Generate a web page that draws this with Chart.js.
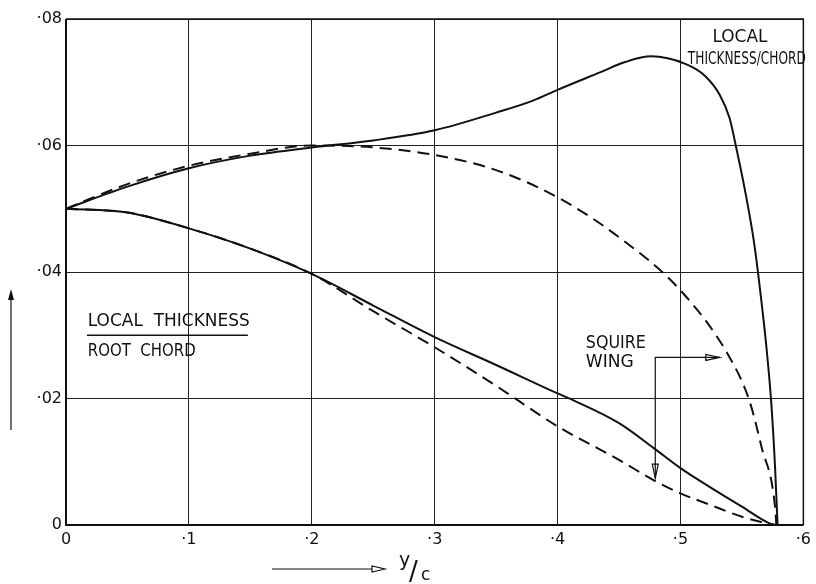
<!DOCTYPE html>
<html>
<head>
<meta charset="utf-8">
<script src="https://cdn.jsdelivr.net/npm/chart.js@4.4.1/dist/chart.umd.min.js"></script>
<style>
html,body{margin:0;padding:0;background:#fff;}
#wrap{width:816px;height:584px;position:relative;}
</style>
</head>
<body>
<div id="wrap"><canvas id="c" width="816" height="584"></canvas></div>
<script>
// ---- data (y/c vs thickness ratio) ----
const xTickValues = [0, 0.1, 0.2, 0.3, 0.4, 0.5, 0.6];
const yTickValues = [0, 0.02, 0.04, 0.06, 0.08];

const chordRatioX = [0, 0.05, 0.1, 0.15, 0.2, 0.25, 0.3, 0.35, 0.38, 0.4, 0.435, 0.455, 0.476, 0.504, 0.52, 0.532, 0.54, 0.545, 0.553, 0.56, 0.5655, 0.57, 0.574, 0.577, 0.579];
const chordRatioY = [0.05, 0.0535, 0.0564, 0.0584, 0.0597, 0.0608, 0.0624, 0.0652, 0.0671, 0.0688, 0.0716, 0.0732, 0.0741, 0.0729, 0.071, 0.068, 0.0643, 0.06, 0.0524, 0.0445, 0.036, 0.028, 0.019, 0.009, 0];

const squireChordX = [0, 0.05, 0.1, 0.15, 0.2, 0.25, 0.3, 0.35, 0.4, 0.45, 0.5, 0.54, 0.556, 0.566, 0.577, 0.578];
const squireChordY = [0.05, 0.0539, 0.0568, 0.0587, 0.06, 0.0597, 0.0585, 0.0561, 0.0518, 0.0455, 0.0371, 0.0265, 0.0197, 0.0123, 0.0028, 0];

const rootRatioX = [0, 0.05, 0.1, 0.15, 0.2, 0.25, 0.3, 0.35, 0.4, 0.413, 0.45, 0.478, 0.5, 0.524, 0.55, 0.572, 0.578];
const rootRatioY = [0.05, 0.0494, 0.0469, 0.0437, 0.0397, 0.0347, 0.0297, 0.0253, 0.0208, 0.0197, 0.0161, 0.0122, 0.009, 0.006, 0.0029, 0.0003, 0];

const squireRootX = [0, 0.05, 0.1, 0.15, 0.2, 0.25, 0.3, 0.35, 0.4, 0.45, 0.478, 0.5, 0.524, 0.55, 0.575];
const squireRootY = [0.05, 0.0494, 0.0469, 0.0437, 0.0397, 0.0338, 0.0281, 0.022, 0.0156, 0.0103, 0.0071, 0.005, 0.0032, 0.0013, 0];

const pts = (xs, ys) => xs.map((x, i) => ({x: x, y: ys[i]}));

function xTickLabel(v) {
  if (Math.abs(v) < 1e-9) return '0';
  return '\u00B7' + Math.round(v * 10);
}
function yTickLabel(v) {
  if (Math.abs(v) < 1e-9) return '0';
  return '\u00B7' + v.toFixed(2).slice(2);
}

const FONT = '"DejaVu Sans", sans-serif';

function fitText(ctx, text, x, y, width, size) {
  ctx.save();
  ctx.font = size + 'px ' + FONT;
  const w = ctx.measureText(text).width;
  ctx.translate(x, y);
  ctx.scale(width / w, 1);
  ctx.textAlign = 'left';
  ctx.textBaseline = 'middle';
  ctx.fillText(text, 0, 0);
  ctx.restore();
}
function arrowHead(ctx, x, y, dir, len, half) {
  const [dx, dy] = dir;
  const px = -dy, py = dx;
  ctx.beginPath();
  ctx.moveTo(x, y);
  ctx.lineTo(x - dx * len + px * half, y - dy * len + py * half);
  ctx.lineTo(x - dx * len - px * half, y - dy * len - py * half);
  ctx.closePath();
  ctx.stroke();
}

const annotations = {
  id: 'annotations',
  afterDraw(chart) {
    const ctx = chart.ctx;
    const xs = chart.scales.x, ys = chart.scales.y;
    const X = v => xs.getPixelForValue(v), Y = v => ys.getPixelForValue(v);
    ctx.save();
    ctx.fillStyle = '#111';
    ctx.strokeStyle = '#111';

    // top-right label
    fitText(ctx, 'LOCAL', X(0.526), Y(0.0771), 55, 17);
    fitText(ctx, 'THICKNESS/CHORD', X(0.506), Y(0.0737), 118, 18);

    // left fraction label
    fitText(ctx, 'LOCAL  THICKNESS', X(0.0177), Y(0.0322), 162, 17);
    ctx.lineWidth = 1.3;
    ctx.beginPath();
    ctx.moveTo(X(0.017), Y(0.0300));
    ctx.lineTo(X(0.148), Y(0.0300));
    ctx.stroke();
    fitText(ctx, 'ROOT  CHORD', X(0.0177), Y(0.0274), 108, 17);

    // Squire wing label + leaders
    fitText(ctx, 'SQUIRE', X(0.423), Y(0.0287), 60, 17);
    fitText(ctx, 'WING', X(0.423), Y(0.0257), 48, 17);
    ctx.lineWidth = 1.2;
    const cx = X(0.4795), cy = Y(0.0265);
    ctx.beginPath();
    ctx.moveTo(X(0.532), cy);
    ctx.lineTo(cx, cy);
    ctx.lineTo(cx, Y(0.0074));
    ctx.stroke();
    arrowHead(ctx, X(0.532), cy, [1, 0], 14, 3);
    arrowHead(ctx, cx, Y(0.0074), [0, 1], 14, 3);

    // y-axis arrow (outside plot)
    ctx.lineWidth = 1.2;
    const yx = 11;
    ctx.beginPath();
    ctx.moveTo(yx, 292);
    ctx.lineTo(yx, 430);
    ctx.stroke();
    ctx.beginPath();
    ctx.moveTo(yx, 289);
    ctx.lineTo(yx - 3, 300);
    ctx.lineTo(yx + 3, 300);
    ctx.closePath();
    ctx.fill();

    // x-axis label arrow and y/c
    ctx.beginPath();
    ctx.moveTo(272, 569);
    ctx.lineTo(372, 569);
    ctx.stroke();
    arrowHead(ctx, 385, 569, [1, 0], 13, 3);
    ctx.textBaseline = 'alphabetic';
    ctx.textAlign = 'left';
    ctx.font = '19px ' + FONT;
    ctx.fillText('y', 399, 566);
    ctx.font = '26px ' + FONT;
    ctx.fillText('/', 409, 580);
    ctx.font = '17px ' + FONT;
    ctx.fillText('c', 421, 580);

    ctx.restore();
  }
};

const frame = {
  id: 'frame',
  afterDatasetsDraw(chart) {
    const a = chart.chartArea, ctx = chart.ctx;
    ctx.save();
    ctx.strokeStyle = '#111';
    ctx.lineWidth = 2;
    ctx.beginPath();
    ctx.moveTo(a.left, a.top);
    ctx.lineTo(a.left, a.bottom);
    ctx.lineTo(a.right, a.bottom);
    ctx.stroke();
    ctx.lineWidth = 1.5;
    ctx.beginPath();
    ctx.moveTo(a.left, a.top);
    ctx.lineTo(a.right, a.top);
    ctx.lineTo(a.right, a.bottom);
    ctx.stroke();
    ctx.restore();
  }
};

const lineStyle = (dash) => ({
  borderColor: '#111',
  borderWidth: 2,
  borderDash: dash,
  pointRadius: 0,
  fill: false,
  showLine: true,
  cubicInterpolationMode: 'monotone'
});

new Chart(document.getElementById('c'), {
  type: 'scatter',
  data: {
    datasets: [
      Object.assign({label: 'Local thickness / chord', data: pts(chordRatioX, chordRatioY)}, lineStyle([])),
      Object.assign({label: 'Squire wing (thickness / chord)', data: pts(squireChordX, squireChordY)}, lineStyle([12, 7])),
      Object.assign({label: 'Local thickness / root chord', data: pts(rootRatioX, rootRatioY)}, lineStyle([])),
      Object.assign({label: 'Squire wing (thickness / root chord)', data: pts(squireRootX, squireRootY)}, lineStyle([12, 7]))
    ]
  },
  options: {
    responsive: false,
    animation: false,
    devicePixelRatio: 1,
    layout: { padding: { top: 19, right: 4, bottom: 0, left: 0 }, autoPadding: false },
    plugins: { legend: { display: false }, tooltip: { enabled: false } },
    scales: {
      x: {
        type: 'linear', min: 0, max: 0.6,
        afterBuildTicks: s => { s.ticks = xTickValues.map(v => ({value: v})); },
        afterFit: s => { s.height = 59; },
        ticks: { callback: v => xTickLabel(v), color: '#111', font: { family: FONT, size: 16 }, padding: 5, maxRotation: 0, autoSkip: false },
        grid: { color: '#222', lineWidth: 1, drawTicks: false },
        border: { display: false }
      },
      y: {
        type: 'linear', min: 0, max: 0.08,
        afterBuildTicks: s => { s.ticks = yTickValues.map(v => ({value: v})); },
        afterFit: s => { s.width = 66; },
        ticks: { callback: v => yTickLabel(v), color: '#111', font: { family: FONT, size: 16 }, padding: 4, autoSkip: false },
        grid: { color: '#222', lineWidth: 1, drawTicks: false },
        border: { display: false }
      }
    }
  },
  plugins: [frame, annotations]
});
</script>
</body>
</html>
